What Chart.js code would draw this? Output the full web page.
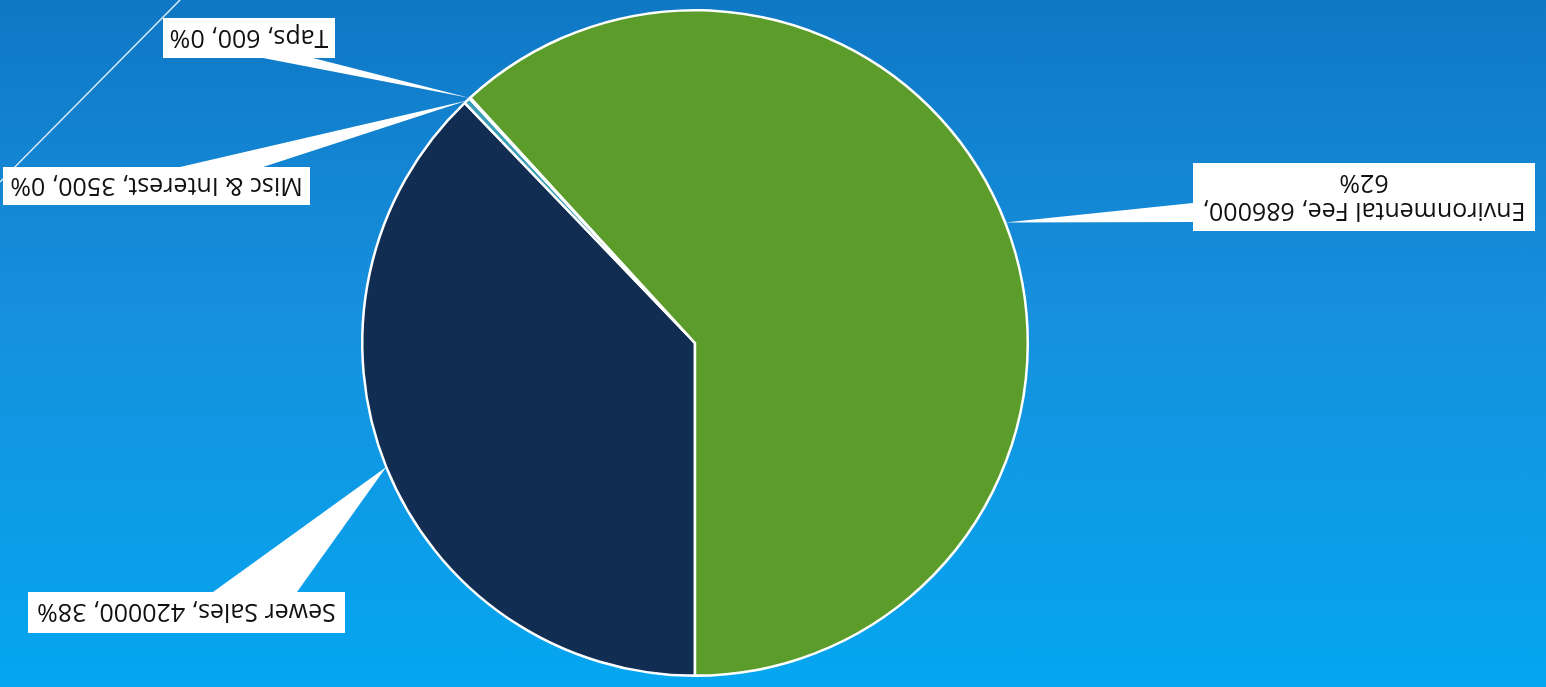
<!DOCTYPE html>
<html>
<head>
<meta charset="utf-8">
<title>Sewer Fund Revenue</title>
<script src="https://cdn.jsdelivr.net/npm/chart.js@4/dist/chart.umd.min.js"></script>
<style>
  html, body {
    margin: 0;
    padding: 0;
    width: 1546px;
    height: 687px;
    overflow: hidden;
    background: linear-gradient(to bottom, #0f78c5 0%, #1690dd 45%, #05a6f0 100%);
  }
  /* the slide is shown turned half a revolution */
  #chart {
    display: block;
    transform: rotate(180deg);
  }
</style>
</head>
<body>
<canvas id="chart" width="1546" height="687"></canvas>
<script>
// revenue sources
const categories = ['Sewer Sales', 'Misc & Interest', 'Taps', 'Environmental Fee'];
const amounts = [420000, 3500, 600, 686000];
const sliceColors = ['#112d52', '#3a9db6', '#74b9cf', '#5c9c2a'];

// callout boxes, in the unrotated canvas frame
const callouts = [
  { x: 1201, y: 54, w: 317, h: 41, base: [1249, 95, 1333, 95] },
  { x: 1236, y: 482, w: 307, h: 38, base: [1283, 520, 1366, 520] },
  { x: 1211, y: 629, w: 172, h: 40, base: [1233, 629, 1283, 629] },
  { x: 11, y: 456, w: 342, h: 68, base: [353, 465, 353, 484], wrap: true }
];

const FONT = '25px "Open Sans", "DejaVu Sans", sans-serif';

const slideLine = {
  id: 'slideLine',
  beforeDraw(chart) {
    const ctx = chart.ctx;
    ctx.save();
    ctx.strokeStyle = 'rgba(255,255,255,0.85)';
    ctx.lineWidth = 1.5;
    ctx.beginPath();
    ctx.moveTo(1366, 687);
    ctx.lineTo(1546, 505);
    ctx.stroke();
    ctx.restore();
  }
};

const calloutLabels = {
  id: 'calloutLabels',
  afterDraw(chart) {
    const ctx = chart.ctx;
    const meta = chart.getDatasetMeta(0);
    const values = chart.data.datasets[0].data;
    const total = values.reduce((a, b) => a + b, 0);

    meta.data.forEach((arc, i) => {
      const box = callouts[i];
      if (!box) return;
      const p = arc.getProps(['x', 'y', 'startAngle', 'endAngle', 'outerRadius'], true);
      const mid = (p.startAngle + p.endAngle) / 2;
      const tipX = p.x + Math.cos(mid) * p.outerRadius;
      const tipY = p.y + Math.sin(mid) * p.outerRadius;

      ctx.save();
      ctx.fillStyle = '#ffffff';
      // wedge from the box to the slice edge
      ctx.beginPath();
      ctx.moveTo(box.base[0], box.base[1]);
      ctx.lineTo(tipX, tipY);
      ctx.lineTo(box.base[2], box.base[3]);
      ctx.closePath();
      ctx.fill();
      ctx.fillRect(box.x, box.y, box.w, box.h);

      const pct = Math.round(values[i] / total * 100) + '%';
      const lines = box.wrap
        ? [chart.data.labels[i] + ', ' + values[i] + ',', pct]
        : [chart.data.labels[i] + ', ' + values[i] + ', ' + pct];

      ctx.fillStyle = '#111111';
      ctx.font = FONT;
      ctx.textAlign = 'center';
      ctx.textBaseline = 'middle';
      const lineH = 28;
      const cx = box.x + box.w / 2;
      const top = box.y + box.h / 2 - (lines.length - 1) * lineH / 2;
      lines.forEach((t, k) => ctx.fillText(t, cx, top + k * lineH + 1));
      ctx.restore();
    });
  }
};

new Chart(document.getElementById('chart'), {
  type: 'pie',
  data: {
    labels: categories,
    datasets: [{
      data: amounts,
      backgroundColor: sliceColors,
      borderColor: '#ffffff',
      borderWidth: 2.5
    }]
  },
  options: {
    responsive: false,
    animation: false,
    events: [],
    layout: {
      padding: { left: 517, right: 361, top: 10, bottom: 9 }
    },
    plugins: {
      legend: { display: false },
      tooltip: { enabled: false }
    }
  },
  plugins: [slideLine, calloutLabels]
});
</script>
</body>
</html>
